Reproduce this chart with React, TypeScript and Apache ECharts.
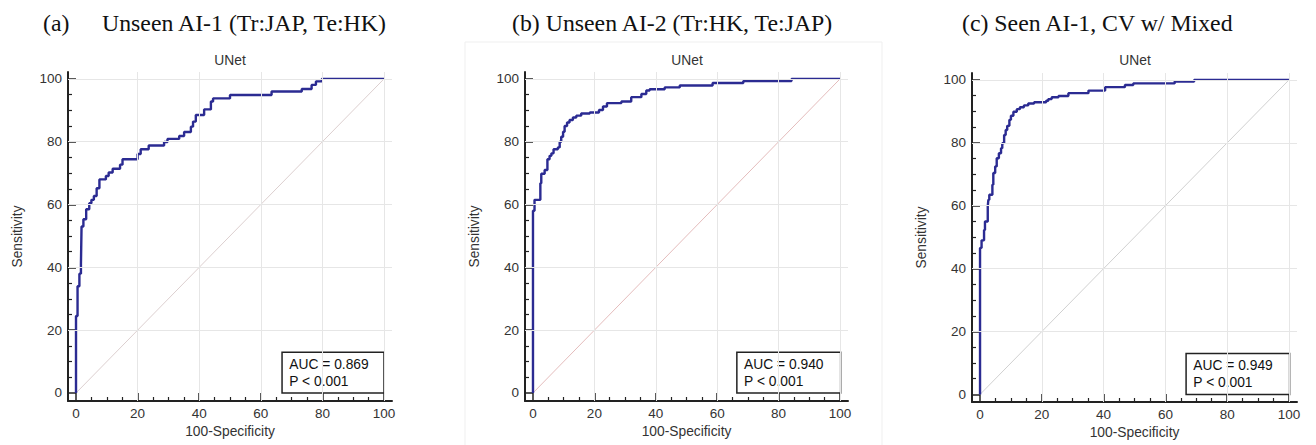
import React, { useEffect, useRef } from "react";
import * as echarts from "echarts";

// ---- data ----
const panelTitlePrefixes = ["(a)", "", "", ""];
const panelTitles = ["Unseen AI-1 (Tr:JAP, Te:HK)", "(b) Unseen AI-2 (Tr:HK, Te:JAP)", "(c) Seen AI-1, CV w/ Mixed"];
const modelName = "UNet";
const xAxisTitle = "100-Specificity";
const yAxisTitle = "Sensitivity";
const majorTicks = [0, 20, 40, 60, 80, 100];
const minorTicks = [5, 10, 15, 25, 30, 35, 45, 50, 55, 65, 70, 75, 85, 90, 95];
const gridValues = [20, 40, 60, 80, 100];
const diagonal = [[0, 0], [100, 100]];
const aucValues = ["0.869", "0.940", "0.949"];
const pValues = ["< 0.001", "< 0.001", "< 0.001"];

// ROC operating points [100-Specificity, Sensitivity]
const rocA = [
  [0, 0], [0, 24.5], [0.5, 34], [1.1, 38], [1.6, 41], [1.8, 53], [2.4, 55.3], [3.3, 58.5],
  [4.3, 60.4], [5, 61.5], [5.8, 62.7], [6.7, 65.2], [7.6, 68], [9.7, 69.1], [10.6, 70.2],
  [11.9, 71.4], [14.3, 72.7], [15.1, 74.4], [20, 76.1], [21, 77.6], [23.6, 78.8], [28.6, 79.9],
  [29.7, 80.9], [33.5, 81.8], [35.1, 83.1], [37.3, 84.8], [38, 86.4], [38.9, 88.5], [41.6, 90.3],
  [43.8, 92.8], [44.5, 93.8], [50, 94.9], [63.5, 96], [73.3, 96.8], [76.5, 98.1], [77.9, 99.2],
  [79.8, 100], [100, 100],
];
const rocB = [
  [0, 0], [0, 58], [0.5, 61.5], [2.4, 66.8], [2.7, 69.8], [3.8, 71], [4.7, 74.4], [5.4, 75.5],
  [6, 76.3], [6.7, 77.6], [8.1, 78.2], [8.7, 80], [9.2, 81.6], [9.8, 83.2], [10.3, 85],
  [11.1, 86.1], [11.9, 86.9], [13, 87.7], [14.1, 88.3], [15.7, 89], [18.5, 89.3], [21.5, 90.1],
  [22.8, 91.2], [24.1, 92.3], [28.8, 92.8], [32, 94.2], [35.3, 95.2], [36.9, 96.3], [38, 96.7],
  [42.9, 97.3], [47.8, 97.9], [58.5, 98.7], [68.5, 99.3], [84.2, 100], [100, 100],
];
const rocC = [
  [0, 0], [0, 46.6], [0.5, 49], [1.3, 52.3], [1.6, 55], [2.5, 59.8], [2.7, 61.9], [3, 63.5],
  [4, 66.7], [4.3, 70.4], [4.9, 72.5], [5.4, 75.1], [6.1, 76.7], [6.8, 78.3], [7.2, 79.9],
  [7.8, 82.5], [8.3, 84.1], [8.8, 85.4], [9.5, 87.3], [10, 88.6], [10.8, 89.9], [11.9, 90.7],
  [12.9, 91.3], [14.2, 91.9], [15.6, 92.5], [17.5, 92.9], [21.4, 93.4], [22.1, 93.9], [23.2, 94.5],
  [25.4, 94.9], [28.6, 95.8], [35.1, 96.6], [40.5, 97.7], [46.9, 98.4], [49.6, 98.9], [63, 99.5],
  [69.3, 100], [100, 100],
];

const SANS = '"Liberation Sans", Arial, sans-serif';
const SERIF = '"Liberation Serif", "Times New Roman", serif';

const panels = [
  { grid: { left: 68, top: 72, width: 324, height: 329 }, xMin: -2.6, xMax: 102.6, yMin: -2.55, yMax: 102.2, diag: "#dccfcf", roc: rocA, box: [66.9, 100, 13], cx: 230 },
  { grid: { left: 525, top: 72, width: 323, height: 329 }, xMin: -2.6, xMax: 102.6, yMin: -2.55, yMax: 102.2, diag: "#e4bcbc", roc: rocB, box: [66.4, 100.2, 13], cx: 687 },
  { grid: { left: 972, top: 73, width: 325, height: 329 }, xMin: -2.6, xMax: 102.6, yMin: -2.4, yMax: 102.2, diag: "#d0d0d0", roc: rocC, box: [66.7, 100.2, 13], cx: 1135 },
];

function buildOption() {
  const grids: any[] = [];
  const xAxes: any[] = [];
  const yAxes: any[] = [];
  const series: any[] = [];
  panels.forEach((p, i) => {
    grids.push({ ...p.grid, containLabel: false });
    const axisLine = { show: true, onZero: false, lineStyle: { color: "#222", width: 2 } };
    xAxes.push({
      gridIndex: i, type: "value", min: p.xMin, max: p.xMax, position: "bottom",
      axisLine,
      axisTick: { show: true, inside: true, length: 8, customValues: majorTicks, lineStyle: { color: "#222", width: 1.5 } },
      axisLabel: { customValues: majorTicks, color: "#333", fontSize: 13.5, margin: 5, fontFamily: SANS },
      splitLine: { show: false },
      name: xAxisTitle, nameLocation: "middle", nameGap: 21,
      nameTextStyle: { color: "#333", fontSize: 13.8, fontFamily: SANS },
    });
    xAxes.push({
      gridIndex: i, type: "value", min: p.xMin, max: p.xMax, position: "bottom",
      axisLine: { show: false, onZero: false },
      axisTick: { show: true, inside: true, length: 4, customValues: minorTicks, lineStyle: { color: "#222", width: 1.2 } },
      axisLabel: { show: false }, splitLine: { show: false },
    });
    yAxes.push({
      gridIndex: i, type: "value", min: p.yMin, max: p.yMax, position: "left",
      axisLine,
      axisTick: { show: true, inside: true, length: 8, customValues: majorTicks, lineStyle: { color: "#222", width: 1.5 } },
      axisLabel: { customValues: majorTicks, color: "#333", fontSize: 13.5, margin: 6, fontFamily: SANS },
      splitLine: { show: false },
      name: yAxisTitle, nameLocation: "middle", nameGap: 44,
      nameTextStyle: { color: "#333", fontSize: 13.8, fontFamily: SANS },
    });
    yAxes.push({
      gridIndex: i, type: "value", min: p.yMin, max: p.yMax, position: "left",
      axisLine: { show: false, onZero: false },
      axisTick: { show: true, inside: true, length: 4, customValues: minorTicks, lineStyle: { color: "#222", width: 1.2 } },
      axisLabel: { show: false }, splitLine: { show: false },
    });
    series.push({
      type: "line", xAxisIndex: 2 * i, yAxisIndex: 2 * i, data: diagonal, symbol: "none", silent: true, z: 2,
      lineStyle: { color: p.diag, width: 1 },
      markLine: {
        silent: true, symbol: ["none", "none"], label: { show: false },
        lineStyle: { color: "#e6e6e6", type: "solid", width: 1 },
        data: [...gridValues.map((v) => ({ xAxis: v })), ...gridValues.map((v) => ({ yAxis: v }))],
      },
    });
    series.push({
      type: "line", xAxisIndex: 2 * i, yAxisIndex: 2 * i, data: p.roc, step: "end", symbol: "none", silent: true, z: 3,
      lineStyle: { color: "#2b2b92", width: 2.4 },
      markArea: {
        silent: true,
        itemStyle: { color: "#ffffff", borderColor: "#222", borderWidth: 1.5 },
        label: {
          show: true, position: "insideLeft", distance: 8,
          formatter: `AUC = ${aucValues[i]}\nP ${pValues[i]}`,
          color: "#111", fontSize: 13.8, lineHeight: 17, fontFamily: SANS,
        },
        data: [[{ coord: [p.box[0], 0] }, { coord: [p.box[1], p.box[2]] }]],
      },
    });
  });

  const serifStyle = { fontFamily: SERIF, fontSize: 23.8, fontWeight: "normal", color: "#111" };
  const sansStyle = { fontFamily: SANS, fontSize: 13.8, fontWeight: "normal", color: "#333" };
  const titles: any[] = [
    { text: panelTitlePrefixes[0], left: 43, top: 11, padding: 0, textStyle: serifStyle },
    { text: panelTitles[0], left: 102, top: 11, padding: 0, textStyle: serifStyle },
    { text: panelTitles[1], left: 512, top: 11, padding: 0, textStyle: serifStyle },
    { text: panelTitles[2], left: 962, top: 11, padding: 0, textStyle: serifStyle },
    ...panels.map((p) => ({ text: modelName, left: p.cx, top: 53, textAlign: "center", padding: 0, textStyle: sansStyle })),
  ];

  return {
    animation: false,
    backgroundColor: "#ffffff",
    title: titles,
    graphic: [
      { type: "rect", shape: { x: 465, y: 42, width: 417, height: 410 }, style: { fill: "none", stroke: "#efefef", lineWidth: 1 }, z: -1, silent: true },
    ],
    grid: grids,
    xAxis: xAxes,
    yAxis: yAxes,
    series,
  };
}

export default function App() {
  const ref = useRef<HTMLDivElement>(null);
  useEffect(() => {
    if (!ref.current) return;
    const chart = echarts.init(ref.current, undefined, { renderer: "svg" });
    chart.setOption(buildOption() as any);
    return () => chart.dispose();
  }, []);
  return (
    <div
      ref={ref}
      style={{ position: "fixed", left: 0, top: 0, width: 1316, height: 445, background: "#fff" }}
    />
  );
}
